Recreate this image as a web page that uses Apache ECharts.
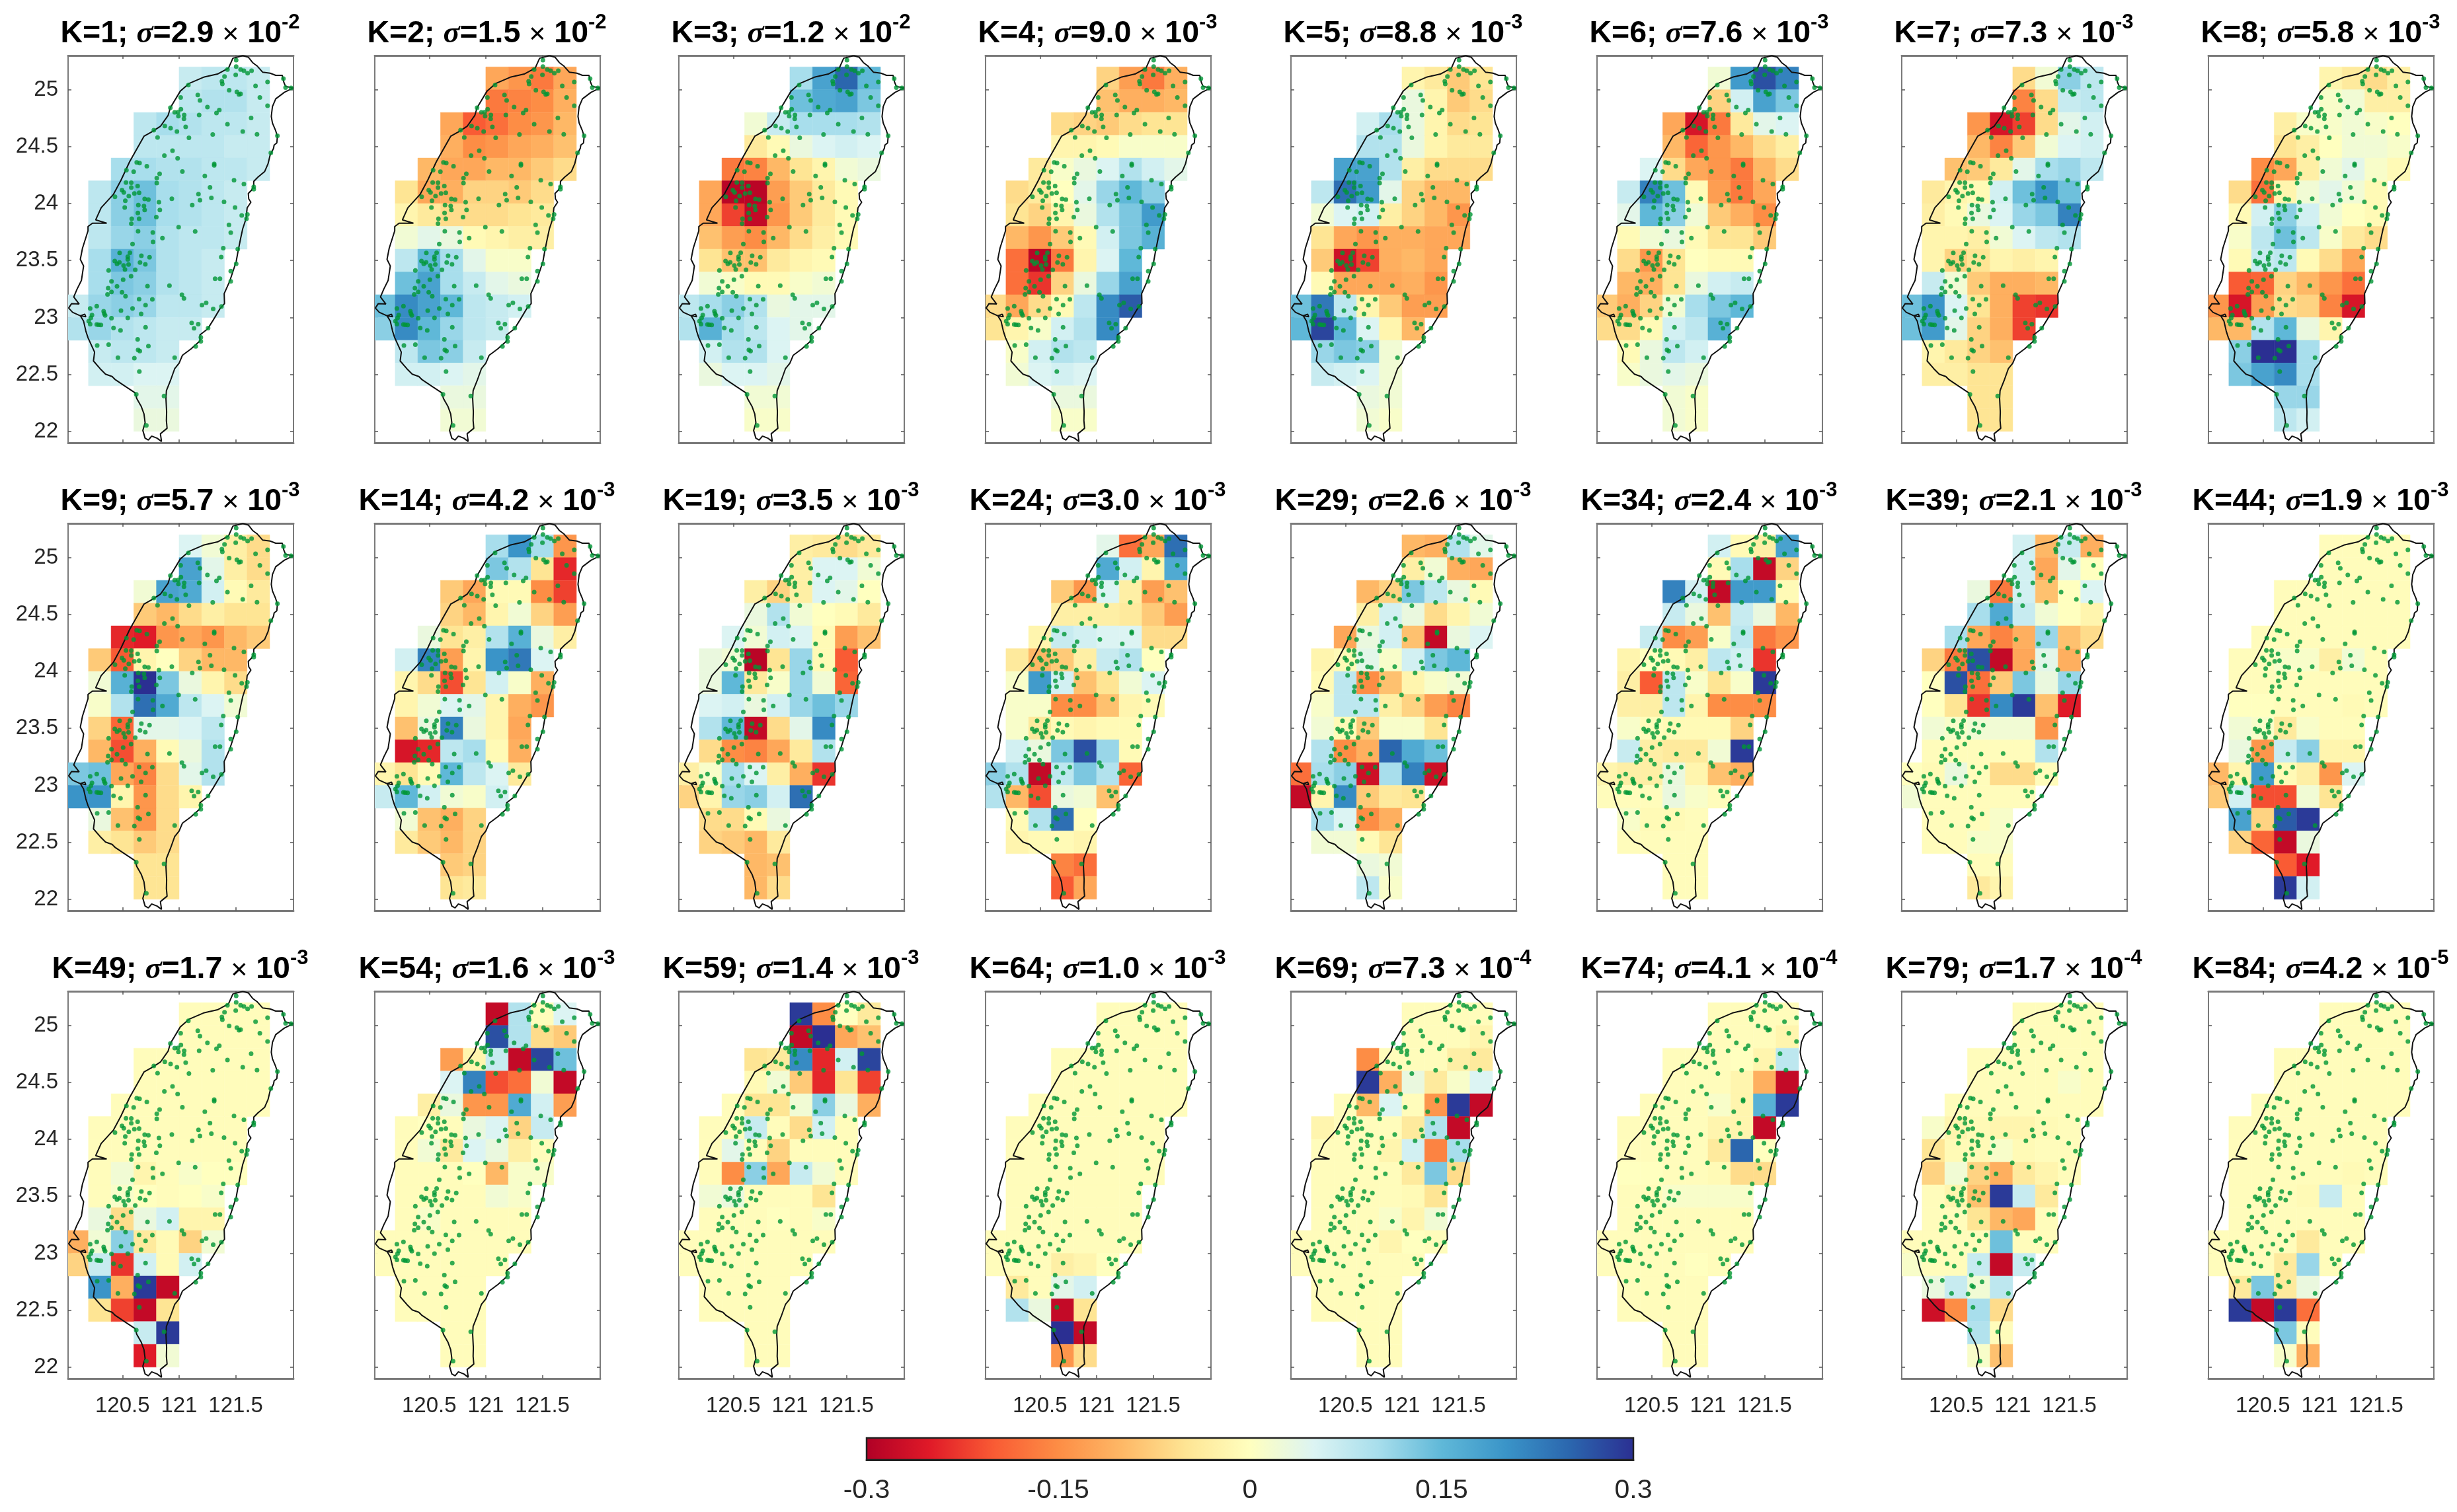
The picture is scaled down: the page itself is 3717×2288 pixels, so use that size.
<!DOCTYPE html>
<html><head><meta charset="utf-8">
<script src="https://cdn.jsdelivr.net/npm/echarts@6/dist/echarts.min.js"></script>
<style>html,body{margin:0;padding:0;background:#fff}#c{width:3717px;height:2288px}</style>
</head><body><div id="c"></div>
<script>
var kValues=[1,2,3,4,5,6,7,8,9,14,19,24,29,34,39,44,49,54,59,64,69,74,79,84];
var sigmaMant=['2.9','1.5','1.2','9.0','8.8','7.6','7.3','5.8','5.7','4.2','3.5','3.0','2.6','2.4','2.1','1.9','1.7','1.6','1.4','1.0','7.3','4.1','1.7','4.2'];
var sigmaExp=['-2','-2','-2','-3','-3','-3','-3','-3','-3','-3','-3','-3','-3','-3','-3','-3','-3','-3','-3','-3','-4','-4','-4','-5'];
// Grid rows, north to south: southern edge latitude, first column, number of cells
var rowLat=[25.0,24.8,24.6,24.4,24.2,24.0,23.8,23.6,23.4,23.2,23.0,22.8,22.6,22.4,22.2,22.0];
var rowFirstCol=[5,5,3,3,2,1,1,1,1,1,0,0,1,1,3,3];
var colLon=[120.0,120.2,120.4,120.6,120.8,121.0,121.2,121.4,121.6];
var lonTicks=[120.5,121,121.5];
var latTicks=[22,22.5,23,23.5,24,24.5,25];
var barTicks=[-0.3,-0.15,0,0.15,0.3];
var palette=['#b00026','#e01a28','#f95b34','#fd8d45','#feb866','#fee594','#ffffbf','#dcf4f3','#a8deec','#5fb8d8','#3a94c8','#2b66ae','#2b2f92'];
// Cell values in hundredths
var K1=[[7,8,8,7],[8,9,9,7],[8,10,9,8,8,7],[8,8,8,8,7,7],[10,10,9,9,8,8,7],[8,12,14,10,9,8,7],[8,12,14,10,9,8,7],[8,11,12,9,8,8,7],[10,16,13,9,8,7],[10,13,12,9,8,7],[7,11,12,11,8,8,7],[9,11,9,8,7,7],[7,8,8,7],[6,6,5,5],[4,4],[3,3]];
var K2=[[-12,-14,-17,-12],[-17,-16,-15,-11],[-12,-20,-18,-15,-14,-10],[-11,-15,-14,-12,-11,-9],[-10,-12,-12,-10,-10,-8,-6],[-5,-12,-11,-7,-7,-8,-6],[-2,-4,-6,-6,-6,-5,-4],[2,4,3,-1,-2,-3,-3],[8,15,10,4,1,1],[14,18,10,7,4,3],[14,21,18,15,8,7,6],[12,21,15,11,8,7],[8,13,12,7],[6,6,5,4],[3,3],[2,2]];
var K3=[[10,18,25,15],[14,17,18,13],[2,7,10,10,10,9],[-4,-1,3,5,6,5],[-17,-16,-10,-5,-2,2,3],[-12,-29,-29,-13,-8,-4,-1],[-12,-22,-28,-14,-8,-4,-1],[-9,-13,-15,-10,-6,-3,-1],[-5,-9,-9,-4,-2,-1],[2,1,-1,-1,1,2],[8,10,12,9,3,4,4],[9,16,10,8,5,4],[6,9,9,5],[3,5,5,4],[2,2],[1,1]];
var K4=[[-7,-13,-17,-11],[-9,-11,-11,-10],[-6,-7,-8,-6,-5,-5],[-2,-2,-1,1,1,1],[-4,1,3,5,9,6,4],[-6,-4,0,4,11,15,12],[-5,-7,-2,3,9,13,19],[-10,-14,-8,-1,6,13,16],[-18,-29,-17,-2,5,15],[-18,-23,-7,3,11,18],[-6,-12,-6,-1,8,21,26],[-5,-2,1,6,9,21],[1,6,9,8],[2,5,6,5],[3,3],[1,1]];
var K5=[[-2,-4,-8,-5],[3,-2,-8,-6],[6,10,3,-2,-6,-5],[9,9,3,-2,-4,-4],[18,18,9,-3,-6,-6,-6],[8,24,19,4,-7,-10,-10],[2,5,6,-3,-7,-10,-14],[-5,-12,-14,-11,-11,-12,-12],[-8,-27,-22,-11,-10,-12],[-1,-12,-12,-12,-11,-14],[14,23,8,-2,-8,-13,-13],[15,28,15,5,-2,-10],[11,13,12,2],[7,6,5,2],[3,2],[2,1]];
var K6=[[2,19,27,22],[-7,6,18,13],[-12,-26,-17,-4,4,5],[-10,-19,-14,-10,-6,-3],[5,-6,-12,-14,-17,-10,-6],[7,22,14,-1,-13,-17,-12],[4,15,12,2,-8,-11,-15],[-1,2,3,-1,-5,-5,-8],[-6,-14,-5,0,-1,-1],[-10,-11,-5,3,6,7],[-8,-11,-7,2,10,13,15],[-6,-6,-1,6,8,16],[-1,3,8,6],[1,3,4,3],[2,1],[2,1]];
var K7=[[-6,2,12,8],[-16,-6,7,8],[-14,-26,-22,-6,4,6],[-10,-16,-8,2,5,6],[-9,-8,-4,4,10,11,8],[-4,-2,-1,6,14,20,14],[-3,-1,3,5,11,13,22],[-2,-2,-3,2,5,8,9],[-2,-7,-5,-2,-3,-2],[7,2,-8,-11,-11,-10],[14,20,5,-5,-11,-22,-23],[14,19,4,-7,-11,-22],[-2,-4,-7,-9],[-3,-3,-5,-5],[-5,-5],[-5,-5]];
var K8=[[-2,-4,-6,-3],[1,2,-3,-3],[-3,1,1,2,1,0],[-5,-3,0,2,2,1],[-15,-12,-3,2,4,1,-1],[-6,-18,-2,2,4,2,-1],[-1,6,12,6,2,0,-1],[1,8,14,8,1,-4,-6],[-1,7,8,-1,-6,-12],[-20,-19,-7,-10,-14,-18],[-14,-26,-13,-6,-7,-16,-26],[-10,-10,9,15,3,-2],[12,30,30,10],[13,18,21,10],[11,11],[8,6]];
var K9=[[5,2,-3,-6],[18,4,-3,-6],[2,18,17,6,-1,-4],[-8,-10,-6,-3,-5,-5],[-24,-25,-14,-12,-14,-10,-8],[-8,-20,-2,0,-7,-10,-10],[2,16,30,13,3,-2,-6],[1,9,24,17,8,5,2],[-7,-19,4,4,5,8],[-10,-21,-11,-1,3,9],[13,14,-12,-16,-6,4,9],[20,20,-2,-14,-6,-2],[3,-9,-14,-6],[-3,-5,-8,-6],[-5,-5],[-5,-5]];
var K14=[[10,20,10,-14],[13,9,-5,-24],[-8,-12,-1,-1,-15,-22],[-7,-10,-2,2,-7,-13],[3,-5,-3,9,16,3,-3],[6,22,-13,-2,20,23,5],[-2,-6,-21,-5,6,1,-11],[-2,2,5,4,-2,-11,-14],[-9,3,22,3,-2,-12],[-26,-24,8,10,-1,-11],[-2,-5,-1,15,8,5,-4],[7,15,6,2,1,6],[2,-9,-11,-7],[-4,-8,-10,-7],[-8,-7],[-5,-4]];
var K19=[[-3,-4,-6,-4],[-3,5,5,2],[-3,-7,-3,5,4,0],[3,9,2,0,-1,-4],[5,2,6,5,-1,-13,-9],[3,2,-29,-5,11,-1,-20],[3,15,-4,1,11,2,-19],[5,6,3,6,11,14,11],[9,15,-28,-6,4,21],[-6,-15,-16,-12,-4,9],[-3,1,10,5,-3,-11,-23],[-7,-2,11,12,6,24],[-6,-6,-1,3],[-7,-8,-10,-4],[-10,-9],[-10,-6]];
var K24=[[4,-18,-12,24],[17,6,-2,17],[-8,-14,5,-3,-13,-9],[-3,-3,-3,-4,-8,-13],[-2,7,6,5,5,-6,-6],[-4,-10,-8,-3,7,9,0],[1,19,6,-9,-5,2,5],[1,1,-15,-15,-9,-2,-1],[1,-4,-1,-2,-1,-1],[6,3,13,27,11,-1],[12,9,-28,8,13,9,-19],[9,-10,-21,3,2,-9],[-1,9,24,0],[-2,-1,-1,-2],[-16,-18],[-20,-12]];
var K29=[[-10,-11,9,4],[-3,2,-11,-12],[-10,-7,13,8,3,-1],[-3,6,3,-6,-2,2],[-12,3,6,-9,-28,3,5],[-2,-1,4,1,6,13,15],[-1,8,-15,-9,-2,1,2],[1,8,8,-3,-7,-13,-16],[2,-1,-8,1,1,-5],[9,-15,-11,25,17,14],[-18,10,12,-27,10,22,-27],[-28,-2,21,-8,-4,-5],[10,5,-15,-11],[2,2,-1,-5],[3,2],[8,1]];
var K34=[[6,-1,-3,18],[-1,10,-28,-7],[22,6,-28,19,19,-1],[7,3,-9,7,3,-10],[7,-15,-13,1,8,-17,-14],[-2,0,-1,-3,8,6,-23],[-3,-20,8,1,-5,1,29],[-3,-3,8,-2,-15,-15,-15],[1,-.5,-1,-1,-1,-7],[7,-3,-4,-4,2,29],[-2,-3,-3,3,-2,-9,-11],[-.5,-.5,-.5,3,1,-.5],[1,-1,-1,-.5],[-.5,-.5,-.5,-.5],[-.5,-.5],[-.5,-.5]];
var K39=[[6,-10,7,-11],[6,-12,4,0],[3,-17,6,-9,0,5],[10,17,7,2,0,-2],[10,-12,-16,-11,11,-9,-6],[-7,-17,27,-28,-12,4,-11],[0,27,-18,-8,13,3,11],[0,-5,-23,21,29,-9,-25],[2,1,2,2,2,-14],[-.5,-.5,-.5,-.5,-.5,9],[0,-1,3,-.5,-6,-6,-.5],[2,-.5,-.5,-.5,-.5,-.5],[-.5,-.5,-.5,1],[-.5,-.5,1,1],[-.5,-.5],[-4,-2]];
var K44=[[-.5,-.5,-.5,-.5],[-.5,-.5,-.5,-.5],[-.5,-.5,-.5,-.5,-.5,-.5],[-.5,-.5,-.5,-.5,-.5,-.5],[-.5,-.5,-.5,-.5,-.5,-.5,-.5],[-.5,-.5,1,1,-3,2,-.5],[-.5,-.5,-.5,-.5,-.5,-.5,-.5],[0,0,-.5,-.5,-.5,-1,-.5],[2,1,-4,1,-.5,-.5],[3,-14,7,12,-2,-2],[-10,-2,19,-1,-3,-14,5],[-8,6,-21,-21,2,-5],[18,-7,26,29],[-7,-19,-28,3],[-20,-25],[29,6]];
var K49=[[-.5,-.5,-.5,-.5],[-.5,-.5,-.5,-.5],[-.5,-.5,-.5,-.5,-.5,-.5],[-.5,-.5,-.5,-.5,-.5,-.5],[-.5,-.5,-.5,-.5,-.5,-.5,-.5],[-.5,-.5,-.5,-.5,-.5,-.5,-.5],[-.5,-.5,-.5,-.5,-.5,-.5,-.5],[-.5,2,-2,-.5,1,0,0],[-.5,1,0,-.5,0,1],[3,-6,3,6,-2,-2],[-11,2,12,-4,-1,-7,2],[-7,7,-23,6,-1,6],[20,-11,29,-28],[-5,-22,-28,-5],[7,29],[-25,2]];
var K54=[[-28,9,-.5,5],[27,9,-6,-8],[-13,-2,7,-28,28,14],[5,22,-21,-18,2,-28],[-3,3,-14,-14,17,6,-13],[-.5,0,-.5,3,5,-7,7],[-.5,2,-4,5,3,-3,-.5],[-.5,-.5,-.5,0,-10,1,1],[-.5,-.5,-.5,-.5,2,1],[-.5,1,-.5,-.5,-.5,-.5],[-.5,-.5,-.5,-.5,-.5,-.5,-.5],[-.5,-.5,-.5,-.5,-.5,-.5],[-.5,-.5,-.5,-.5],[-.5,-.5,-.5,-.5],[-.5,-.5],[-.5,-.5]];
var K59=[[29,-15,0,-4],[-28,30,-12,-9],[-5,-4,21,-24,6,28],[-1,2,-8,-24,-5,-22],[-.5,-5,-5,2,12,3,-11],[-.5,-.5,7,-.5,-6,6,-.5],[-.5,4,-.5,-7,-.5,-.5,-.5],[-.5,-15,12,-12,7,2,-.5],[2,3,-.5,-.5,-.5,-5],[-.5,-.5,-.5,0,-.5,1],[-.5,-.5,-.5,-.5,-.5,-.5,-.5],[-.5,-.5,-.5,-.5,-.5,-.5],[-.5,-.5,-.5,-.5],[-.5,-.5,-.5,-.5],[-.5,-.5],[-.5,-.5]];
var K64=[[-.5,-.5,-.5,-.5],[-.5,-.5,-.5,-.5],[-.5,-.5,-.5,-.5,-.5,-.5],[-.5,-.5,-.5,-.5,-.5,-.5],[-.5,-.5,-.5,-.5,-.5,-.5,-.5],[-.5,-.5,-.5,-.5,-.5,-.5,-.5],[-.5,-.5,-.5,-.5,-.5,-.5,-.5],[-.5,-.5,-.5,-.5,-.5,-.5,-.5],[-.5,-.5,-.5,-.5,-.5,-.5],[-.5,-.5,-.5,-.5,-.5,-.5],[-.5,-.5,-.5,-.5,-.5,-.5,-.5],[-.5,-.5,-.5,-3,-2,0],[-4,-.5,4,6],[9,3,-28,-5],[30,-28],[-14,-6]];
var K69=[[-.5,-.5,-.5,-.5],[-.5,-.5,-.5,-2],[-15,-.5,-.5,-.5,-3,-4],[29,-11,3,-4,1,5],[-.5,-10,5,-.5,-14,29,-28],[-2,-.5,-.5,-.5,-4,9,-28],[-.5,-.5,-.5,-2,6,-16,10],[-.5,-.5,-.5,-.5,-4,13,-6],[-.5,-.5,-.5,-.5,-1,-5],[-.5,-.5,-.5,1,-2,2],[-.5,-.5,-.5,-.5,-2,0,-.5],[-.5,-.5,-.5,-.5,-.5,-.5],[-.5,-.5,-.5,-.5],[-.5,-.5,-.5,-.5],[-.5,-.5],[-.5,-.5]];
var K74=[[-.5,-.5,-.5,-.5],[-.5,-.5,-.5,-2],[-.5,-.5,-.5,0,-2,8],[-.5,-.5,-.5,-2,-11,-28],[-.5,-.5,-.5,1,-2,16,29],[-.5,-.5,-.5,-.5,-2,-2,-28],[-.5,-.5,-.5,-.5,-4,25,0],[0,0,-.5,-.5,-1,-6,-6],[-.5,-.5,1,1,1,1],[-.5,-.5,-.5,-.5,-.5,-.5],[-.5,-.5,-.5,-.5,-.5,-.5,-.5],[-.5,-.5,-.5,-.5,0,-.5],[-.5,-.5,-.5,-.5],[-.5,-.5,-.5,-.5],[-.5,-.5],[-.5,-.5]];
var K79=[[-.5,-.5,-.5,-.5],[-.5,-.5,-.5,-.5],[-.5,-.5,-.5,-.5,-.5,-.5],[-.5,-.5,-.5,-.5,1,-.5],[-.5,-.5,-.5,-.5,-.5,-.5,-.5],[1,-2,-1,-2,-2,-1,-.5],[-5,-1,-1,1,-1,-.5,-.5],[-7,2,-7,-11,-4,-2,-.5],[-.5,-2,-9,29,7,-4],[-.5,-.5,-5,-10,-12,-.5],[-.5,-.5,-.5,-.5,14,-.5,-.5],[1,-.5,-.5,7,-28,7],[3,7,2,8],[-27,-15,10,-6],[9,-.5],[1,-9]];
var K84=[[-.5,-.5,-.5,-.5],[-.5,-.5,-.5,-.5],[-.5,-.5,-.5,-.5,-.5,-.5],[-.5,-.5,-.5,-.5,-.5,-.5],[-.5,-.5,-.5,-.5,-.5,-.5,-.5],[-.5,-.5,-.5,-.5,-.5,-.5,-.5],[-.5,-.5,-.5,-.5,-.5,-.5,-.5],[-.5,-.5,-.5,-.5,-.5,-1,-.5],[-.5,-.5,-.5,-1,7,-.5],[-.5,-.5,-.5,-.5,-.5,-.5],[-.5,-.5,-.5,-.5,-4,-.5,-.5],[-.5,-.5,-.5,-4,11,-.5],[-4,13,-4,3],[29,-28,29,-18],[13,-.5],[1,-11]];
var panelCells=[K1,K2,K3,K4,K5,K6,K7,K8,K9,K14,K19,K24,K29,K34,K39,K44,K49,K54,K59,K64,K69,K74,K79,K84];
// Stations, lon/lat
var stations=[[121.504,25.26],[121.504,25.203],[121.427,25.176],[121.543,25.176],[121.572,25.166],[121.605,25.145],[121.64,25.166],[121.5,25.131],[121.401,25.116],[121.378,25.073],[121.382,25.05],[121.082,25.041],[121.675,25.033],[121.781,25.068],[121.921,25.097],[121.94,25.019],[121.989,25.015],[121.442,24.996],[121.51,24.981],[121.529,24.958],[121.543,24.963],[121.165,24.954],[121.014,24.932],[121.184,24.905],[121.713,24.932],[121.781,24.859],[121.25,24.848],[120.923,24.842],[121.016,24.828],[121.355,24.821],[121.33,24.795],[120.961,24.801],[120.99,24.803],[120.994,24.768],[121.045,24.778],[121.043,24.745],[121.177,24.778],[121.636,24.751],[121.427,24.697],[120.874,24.681],[120.925,24.662],[121.058,24.674],[120.777,24.645],[120.981,24.633],[121.562,24.633],[121.688,24.608],[121.297,24.606],[120.81,24.581],[121.087,24.577],[121.868,24.595],[120.942,24.465],[121.81,24.446],[120.87,24.421],[120.987,24.398],[120.626,24.361],[120.651,24.355],[120.715,24.328],[121.31,24.349],[121.31,24.336],[120.599,24.28],[120.535,24.293],[121.029,24.282],[120.828,24.262],[121.227,24.243],[120.803,24.224],[121.485,24.205],[121.572,24.172],[120.531,24.185],[120.578,24.183],[120.578,24.141],[120.634,24.154],[120.803,24.18],[121.659,24.147],[121.659,24.127],[121.273,24.143],[120.496,24.118],[120.512,24.098],[120.605,24.089],[120.647,24.095],[120.556,24.066],[120.434,24.06],[121.171,24.083],[121.184,24.029],[121.285,24.05],[120.525,24.025],[120.696,24.041],[120.729,24.035],[120.936,24.042],[120.822,24.012],[121.397,24.015],[121.116,23.987],[120.52,23.965],[120.64,23.987],[120.69,23.979],[120.696,23.944],[120.83,23.944],[121.494,23.965],[121.603,23.905],[121.553,23.896],[121.595,23.867],[120.636,23.917],[120.582,23.867],[120.647,23.867],[120.799,23.882],[120.578,23.824],[121.44,23.813],[120.996,23.793],[120.638,23.757],[121.142,23.755],[120.768,23.747],[121.456,23.745],[120.853,23.697],[120.589,23.645],[120.77,23.664],[121.39,23.608],[121.518,23.6],[120.475,23.566],[120.566,23.568],[120.667,23.542],[120.739,23.529],[120.547,23.533],[120.547,23.51],[121.372,23.531],[120.432,23.496],[120.473,23.484],[120.452,23.471],[120.655,23.482],[120.702,23.467],[120.51,23.457],[120.554,23.465],[121.504,23.471],[120.522,23.422],[120.613,23.418],[120.378,23.413],[121.456,23.407],[120.576,23.362],[121.318,23.341],[121.361,23.341],[120.506,23.331],[120.403,23.317],[121.456,23.317],[120.721,23.275],[120.452,23.273],[120.915,23.279],[120.374,23.257],[120.403,23.224],[120.496,23.222],[120.368,23.203],[120.527,23.186],[121.025,23.199],[121.043,23.168],[120.647,23.161],[120.764,23.159],[121.239,23.128],[121.202,23.108],[120.704,23.108],[120.273,23.1],[121.374,23.097],[120.215,23.079],[120.589,23.079],[121.301,23.075],[120.487,23.06],[120.334,23.054],[120.339,23.035],[120.347,23.019],[120.665,23.031],[120.231,23.021],[120.221,22.996],[120.403,22.994],[120.547,22.996],[120.202,22.967],[120.215,22.941],[120.273,22.938],[120.289,22.936],[120.31,22.934],[121.111,22.951],[121.169,22.941],[121.132,22.905],[120.704,22.914],[120.421,22.908],[121.256,22.907],[120.483,22.887],[120.634,22.808],[121.192,22.825],[121.192,22.79],[120.277,22.754],[120.378,22.761],[120.729,22.748],[121.147,22.746],[120.638,22.715],[120.653,22.705],[120.46,22.647],[120.605,22.643],[120.961,22.647],[120.649,22.525],[120.622,22.325],[120.867,22.31],[120.711,22.052]];
// Coastline, lon/lat
var coast=[[121.562,25.299],[121.611,25.286],[121.649,25.238],[121.688,25.209],[121.737,25.154],[121.804,25.145],[121.853,25.126],[121.911,25.126],[121.925,25.064],[121.94,25.029],[122.008,25.015],[121.93,24.977],[121.853,24.919],[121.824,24.851],[121.814,24.765],[121.824,24.707],[121.853,24.639],[121.868,24.591],[121.863,24.533],[121.839,24.514],[121.834,24.485],[121.804,24.427],[121.785,24.349],[121.756,24.282],[121.698,24.234],[121.659,24.195],[121.659,24.156],[121.64,24.118],[121.611,24.089],[121.615,24.041],[121.634,24.012],[121.601,23.963],[121.591,23.867],[121.562,23.78],[121.543,23.693],[121.518,23.568],[121.504,23.49],[121.475,23.403],[121.446,23.316],[121.398,23.209],[121.401,23.122],[121.359,23.074],[121.301,22.977],[121.252,22.899],[121.184,22.847],[121.184,22.793],[121.107,22.725],[121.029,22.667],[121.0,22.599],[120.961,22.55],[120.923,22.444],[120.888,22.357],[120.884,22.289],[120.89,22.172],[120.888,22.095],[120.894,22.027],[120.835,21.979],[120.845,21.911],[120.806,21.94],[120.758,21.959],[120.729,21.924],[120.7,21.94],[120.68,22.008],[120.7,22.076],[120.69,22.153],[120.665,22.221],[120.626,22.289],[120.613,22.337],[120.525,22.395],[120.438,22.453],[120.409,22.482],[120.351,22.502],[120.303,22.55],[120.244,22.618],[120.254,22.696],[120.196,22.822],[120.177,22.88],[120.157,22.967],[120.128,23.015],[120.167,23.029],[120.177,23.006],[120.128,23.015],[120.06,23.045],[120.025,23.083],[120.051,23.122],[120.118,23.118],[120.07,23.18],[120.099,23.248],[120.138,23.326],[120.157,23.452],[120.128,23.51],[120.147,23.607],[120.196,23.761],[120.196,23.799],[120.235,23.828],[120.361,23.828],[120.264,23.857],[120.312,23.963],[120.419,24.079],[120.487,24.205],[120.564,24.369],[120.69,24.591],[120.758,24.629],[120.835,24.678],[120.903,24.774],[120.923,24.842],[121.01,24.986],[121.087,25.054],[121.223,25.112],[121.339,25.137],[121.436,25.189],[121.475,25.276],[121.562,25.299]];

var panelLefts=[103,567,1027,1491,1953,2416,2877,3341];
var panelTops=[84,792,1500];
var panelW=341,panelH=586;
var lonMin=120.02,lonMax=122.01,latMin=21.9,latMax=25.3;
var AX='#7a7a7a',TXT='#262626',FF='"Liberation Sans",Arial,sans-serif';

var grids=[],xAxes=[],yAxes=[],series=[],titles=[],cellSeriesIdx=[];
function axisBase(extra,w){
  return Object.assign({type:'value',scale:true,splitLine:{show:false},animation:false,
    axisLine:{show:true,onZero:false,lineStyle:{color:AX,width:w}}},extra);
}
kValues.forEach(function(k,i){
  var col=i%8,row=Math.floor(i/8),L=panelLefts[col],T=panelTops[row];
  grids.push({left:L,top:T,width:panelW,height:panelH,containLabel:false});
  var xb=xAxes.length,yb=yAxes.length;
  var tick=function(vals){return {show:true,inside:true,length:5,customValues:vals,lineStyle:{color:'#555',width:1.5}};};
  xAxes.push(axisBase({gridIndex:i,position:'bottom',min:lonMin,max:lonMax,axisTick:tick(lonTicks),
    axisLabel:{show:row===2,customValues:lonTicks,margin:25,fontSize:33,fontFamily:FF,color:TXT,formatter:function(v){return String(v);}}},3));
  xAxes.push(axisBase({gridIndex:i,position:'top',min:lonMin,max:lonMax,axisTick:tick(lonTicks),axisLabel:{show:false}},3));
  yAxes.push(axisBase({gridIndex:i,position:'left',min:latMin,max:latMax,axisTick:tick(latTicks),
    axisLabel:{show:col===0,customValues:latTicks,margin:15,fontSize:33,fontFamily:FF,color:TXT,formatter:function(v){return String(v);}}},2));
  yAxes.push(axisBase({gridIndex:i,position:'right',min:latMin,max:latMax,axisTick:tick(latTicks),axisLabel:{show:false}},2));
  var cells=[];
  panelCells[i].forEach(function(vals,r){
    vals.forEach(function(v,c){cells.push([colLon[rowFirstCol[r]+c],rowLat[r],v/100]);});
  });
  cellSeriesIdx.push(series.length);
  series.push({type:'custom',xAxisIndex:xb,yAxisIndex:yb,clip:true,silent:true,z:1,animation:false,data:cells,
    encode:{x:0,y:1},
    renderItem:function(params,api){
      var a=api.coord([api.value(0),api.value(1)+0.2]),b=api.coord([api.value(0)+0.2,api.value(1)]);
      var c=api.visual('color');
      var cs=params.coordSys;
      var r=echarts.graphic.clipRectByRect({x:a[0],y:a[1],width:b[0]-a[0],height:b[1]-a[1]},{x:cs.x,y:cs.y,width:cs.width,height:cs.height});
      return r&&{type:'rect',shape:r,style:{fill:c,stroke:c,lineWidth:0.5}};
    }});
  series.push({type:'line',xAxisIndex:xb,yAxisIndex:yb,data:coast,showSymbol:false,silent:true,z:2,animation:false,clip:true,
    lineStyle:{color:'#111',width:2}});
  series.push({type:'scatter',xAxisIndex:xb,yAxisIndex:yb,data:stations,symbolSize:7,silent:true,z:3,animation:false,
    itemStyle:{color:'#009636'}});
  titles.push({left:L+panelW/2-6,top:T-70,textAlign:'center',
    text:'{b|K='+k+'; }{s|\u03c3}{b|='+sigmaMant[i]+' }{x|\u00d7}{b| 10}{e|'+sigmaExp[i]+'}',
    textStyle:{rich:{
      b:{fontFamily:FF,fontWeight:'bold',fontSize:46.5,color:'#000',lineHeight:56,verticalAlign:'bottom'},
      s:{fontFamily:'"Liberation Serif",serif',fontStyle:'italic',fontWeight:'bold',fontSize:46.5,color:'#000',lineHeight:56,verticalAlign:'bottom'},
      x:{fontFamily:FF,fontWeight:'normal',fontSize:43,color:'#000',lineHeight:56,verticalAlign:'bottom'},
      e:{fontFamily:FF,fontWeight:'bold',fontSize:31,color:'#000',lineHeight:30,verticalAlign:'top'}
    }}});
});
// Colour bar
var barGrid=grids.length,barX=xAxes.length,barY=yAxes.length;
grids.push({left:1311,top:2176,width:1160,height:33});
xAxes.push({type:'value',gridIndex:barGrid,position:'bottom',min:-0.3,max:0.3,splitLine:{show:false},
  axisLine:{show:true,onZero:false,lineStyle:{color:'#222',width:3}},
  axisTick:{show:true,inside:true,length:12,customValues:barTicks,lineStyle:{color:'#222',width:2}},
  axisLabel:{customValues:barTicks,margin:26,fontSize:41,fontFamily:FF,color:TXT,formatter:function(v){return String(v);}}});
yAxes.push({type:'value',gridIndex:barGrid,min:0,max:1,splitLine:{show:false},show:false});
series.push({type:'custom',xAxisIndex:barX,yAxisIndex:barY,silent:true,z:1,animation:false,data:[[-0.3,0.3]],
  encode:{x:[0,1]},
  renderItem:function(params,api){
    var a=api.coord([api.value(0),1]),b=api.coord([api.value(1),0]);
    var stops=palette.map(function(c,i){return {offset:i/(palette.length-1),color:c};});
    return {type:'rect',shape:{x:a[0],y:a[1],width:b[0]-a[0],height:b[1]-a[1]},
      style:{fill:new echarts.graphic.LinearGradient(0,0,1,0,stops),stroke:'#222',lineWidth:2.5}};
  }});

var chart=echarts.init(document.getElementById('c'),null,{renderer:'canvas'});
chart.setOption({animation:false,backgroundColor:'#fff',title:titles,grid:grids,xAxis:xAxes,yAxis:yAxes,series:series,
  visualMap:{show:false,type:'continuous',min:-0.3,max:0.3,dimension:2,seriesIndex:cellSeriesIdx,inRange:{color:palette}}});
</script></body></html>
